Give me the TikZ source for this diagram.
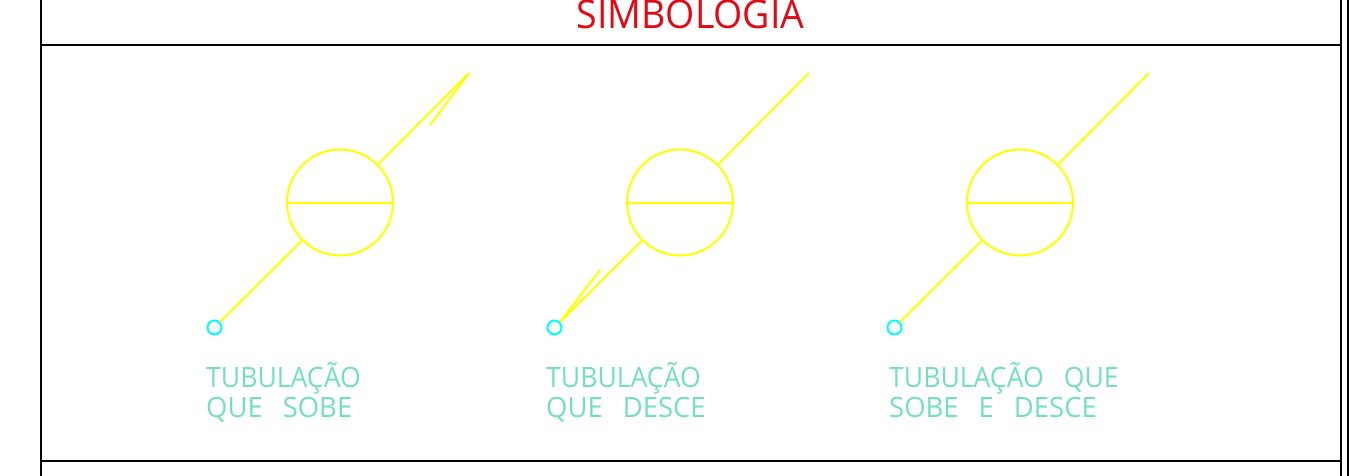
\documentclass[tikz,border=0pt]{standalone}
\usepackage{fontspec}
\newfontfamily\cadfont[FakeStretch=0.95]{Open Sans}
\newfontfamily\cadwide[FakeStretch=0.98]{Open Sans}
\usepackage{xcolor}
\definecolor{symyellow}{RGB}{255,255,0}
\definecolor{symcyan}{RGB}{0,255,255}
\definecolor{symgreen}{RGB}{115,222,192}
\definecolor{symred}{RGB}{225,10,20}
\newcommand{\wordgap}{\hspace{20pt}}
\tikzset{
	frameline/.style={black, line width=1.7pt},
	pipeline/.style={symyellow, line width=2pt},
	riser/.style={circle, draw=symyellow, line width=2pt, minimum size=106pt, inner sep=0pt},
	endpoint/.style={circle, draw=symcyan, line width=2pt, minimum size=14pt, inner sep=0pt},
	legend/.style={symgreen, anchor=base west, inner sep=0pt, font=\cadfont\fontsize{28}{28}\selectfont},
	legendwide/.style={legend, font=\cadwide\fontsize{28}{28}\selectfont},
	headline/.style={symred, anchor=base, inner sep=0pt, font=\cadfont\fontsize{39.5}{39.5}\selectfont}
}
\begin{document}
\begin{tikzpicture}[x=1pt,y=-1pt]
	\useasboundingbox (0,0) rectangle (1349,476);
	% Frame
	\coordinate (fa) at (41,0);
	\coordinate (fb) at (41,476);
	\coordinate (fc) at (1341,0);
	\coordinate (fd) at (1341,476);
	\coordinate (fe) at (1348,0);
	\coordinate (ff) at (1348,476);
	\coordinate (fg) at (41,45);
	\coordinate (fh) at (1341,45);
	\coordinate (fi) at (41,461);
	\coordinate (fj) at (1341,461);
	\draw[frameline] (fa) -- (fb);
	\draw[frameline] (fc) -- (fd);
	\draw[frameline] (fe) -- (ff);
	\draw[frameline] (fg) -- (fh);
	\draw[frameline] (fi) -- (fj);
	\node[headline] (title) at (690.5,29) {SIMBOLOGIA};
	% Symbols
	\foreach \name/\i in {sobe/0,desce/1,ambos/2}{
		\node[riser] (\name) at ({340+340*\i},202.5) {};
		\node[endpoint] (\name-end) at ({214.5+340*\i},327.5) {};
		\coordinate (\name-top) at ({469+340*\i},73);
		\draw[pipeline] (\name.west) -- (\name.east);
		\draw[pipeline] (\name.45) -- (\name-top);
		\draw[pipeline] (\name.225) -- (\name-end.45);
	}
	% Direction marks
	\coordinate (sobe-tick) at (430,125);
	\coordinate (desce-tick) at (600,270);
	\draw[pipeline] (sobe-top) -- (sobe-tick);
	\draw[pipeline] (desce-end.45) -- (desce-tick);
	% Labels
	\node[legend] (sobe-one) at (206,387) {TUBULAÇÃO};
	\node[legendwide] (sobe-two) at (206,417) {QUE\wordgap SOBE};
	\node[legend] (desce-one) at (546,387) {TUBULAÇÃO};
	\node[legendwide] (desce-two) at (546,417) {QUE\wordgap DESCE};
	\node[legend] (ambos-one) at (889,387) {TUBULAÇÃO\wordgap QUE};
	\node[legendwide] (ambos-two) at (889,417) {SOBE\wordgap E\wordgap DESCE};
\end{tikzpicture}
\end{document}
